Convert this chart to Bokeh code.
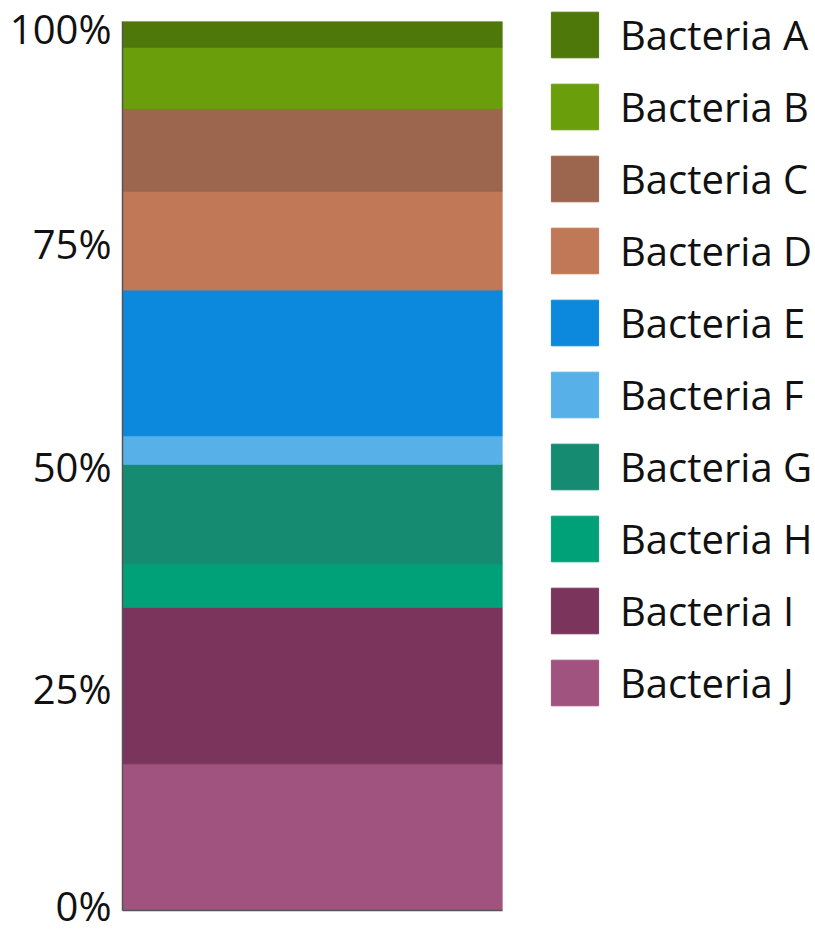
from bokeh.plotting import figure
from bokeh.models import (ColumnDataSource, Range1d, FactorRange, Legend,
                          LegendItem, FixedTicker)
from bokeh.embed import file_html
from bokeh.resources import INLINE

# Relative abundance of each taxon in the sample (percent of total)
samples = ["Sample"]
bacteria = ["Bacteria A", "Bacteria B", "Bacteria C", "Bacteria D", "Bacteria E",
            "Bacteria F", "Bacteria G", "Bacteria H", "Bacteria I", "Bacteria J"]
shares = [2.9, 6.9, 9.3, 11.1, 16.4, 3.2, 11.2, 4.9, 17.6, 16.5]
colors = ["#4e780a", "#6a9e0a", "#9b664d", "#c07856", "#0c88dc",
          "#57b1e8", "#158c72", "#00a079", "#7b355c", "#a0537e"]
y_ticks = [0, 25, 50, 75, 100]
y_tick_labels = ["0%", "25%", "50%", "75%", "100%"]

data = {"sample": samples}
for name, share in zip(bacteria, shares):
    data[name] = [share]
source = ColumnDataSource(data)

p = figure(frame_width=380, frame_height=889,
           x_range=FactorRange(*samples, range_padding=0),
           y_range=Range1d(0, 100),
           output_backend="svg", toolbar_location=None,
           min_border_left=122, min_border_right=313,
           min_border_top=21, min_border_bottom=22)

# Stack from the bottom up: J first, A on top
stack_order = bacteria[::-1]
renderers = p.vbar_stack(stack_order, x="sample", width=1.0,
                         color=colors[::-1], source=source)
by_name = dict(zip(stack_order, renderers))

p.xgrid.visible = False
p.ygrid.visible = False
p.outline_line_color = None

axis_color = "#555555"
p.yaxis.ticker = FixedTicker(ticks=y_ticks)
p.yaxis.major_label_overrides = {t: s for t, s in zip(y_ticks, y_tick_labels)}
p.yaxis.major_label_text_font = "Open Sans"
p.yaxis.major_label_text_font_size = "40px"
p.yaxis.major_label_text_line_height = 0.9
p.yaxis.major_label_text_color = "#111111"
p.yaxis.major_label_standoff = 5
p.yaxis.major_tick_line_color = None
p.yaxis.minor_tick_line_color = None
p.yaxis.axis_line_color = axis_color
p.yaxis.axis_line_width = 1.5

p.xaxis.major_label_text_font_size = "1px"
p.xaxis.major_label_text_color = None
p.xaxis.major_tick_line_color = None
p.xaxis.minor_tick_line_color = None
p.xaxis.axis_line_color = axis_color
p.xaxis.axis_line_width = 1.5

# Legend swatches are inset by 10% of the glyph box on each side
legend = Legend(
    items=[LegendItem(label=name, renderers=[by_name[name]]) for name in bacteria],
    location=(43, 199),
    glyph_width=59, glyph_height=57,
    label_standoff=16, spacing=15,
    padding=0, margin=0,
    border_line_color=None, background_fill_alpha=0,
    label_text_font="Open Sans", label_text_font_size="40px",
    label_text_color="#111111",
)
p.add_layout(legend, "right")

open("out.html", "w").write(file_html(p, INLINE))
